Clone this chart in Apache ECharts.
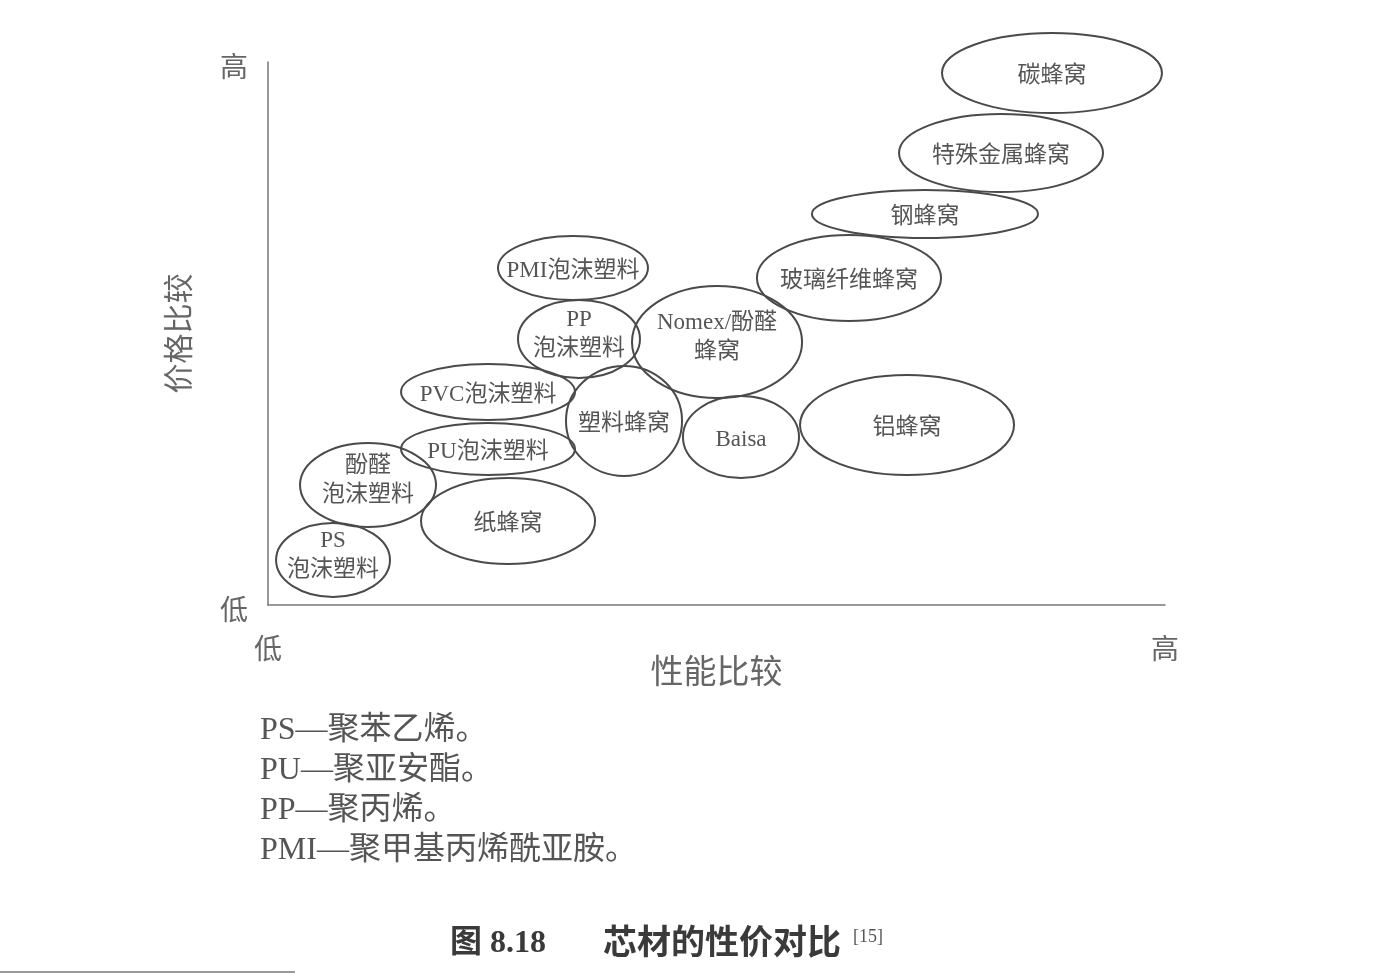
<!DOCTYPE html>
<html>
<head>
<meta charset="utf-8">
<script src="https://cdn.jsdelivr.net/npm/echarts@6/dist/echarts.min.js"></script>
<style>
html,body{margin:0;padding:0;background:#fff;}
#chart{width:1373px;height:977px;}
</style>
</head>
<body>
<div id="chart"></div>
<script>
// ---- data (performance 0..100, price 0..100) ----
var materials = ['PS\n泡沫塑料','酚醛\n泡沫塑料','纸蜂窝','PU泡沫塑料','PVC泡沫塑料','塑料蜂窝','PP\n泡沫塑料','PMI泡沫塑料','Nomex/酚醛\n蜂窝','Baisa','铝蜂窝','玻璃纤维蜂窝','钢蜂窝','特殊金属蜂窝','碳蜂窝'];
var perfCenter = [7.25, 11.15, 26.76, 24.53, 24.53, 39.69, 34.67, 34.0, 50.06, 52.73, 71.24, 64.77, 73.24, 81.72, 87.40];
var priceCenter = [8.29, 22.1, 15.47, 28.73, 39.23, 33.89, 48.99, 62.06, 48.43, 30.94, 33.15, 60.22, 72.01, 83.24, 97.97];
var perfSpread = [6.35, 7.58, 9.70, 9.70, 9.70, 6.47, 6.80, 8.36, 9.48, 6.47, 11.93, 10.26, 12.60, 11.37, 12.26];
var priceSpread = [6.81, 7.73, 7.92, 4.79, 5.16, 10.13, 7.18, 5.89, 10.31, 7.55, 9.21, 7.92, 4.42, 7.18, 7.37];
var xTickLabels = ['低','高'];
var yTickLabels = ['低','高'];
var xAxisName = '性能比较';
var yAxisName = '价格比较';
var notes = ['PS—聚苯乙烯。','PU—聚亚安酯。','PP—聚丙烯。','PMI—聚甲基丙烯酰亚胺。'];
var captionFig = '图 8.18';
var captionTitle = '芯材的性价对比';
var captionRef = '[15]';

var seriesData = materials.map(function(m, i){
  return [perfCenter[i], priceCenter[i], perfSpread[i], priceSpread[i], m];
});

var FONT = "'Liberation Serif','Noto Sans CJK SC',serif";
var chart = echarts.init(document.getElementById('chart'));

var noteGraphics = notes.map(function(t, i){
  return {
    type:'text', left:260, top:715 + i*40,
    style:{text:t, fontSize:32, fontFamily:FONT, fill:'#555'}
  };
});

chart.setOption({
  animation:false,
  backgroundColor:'#fff',
  grid:{left:268, right:208, top:62, bottom:372, containLabel:false},
  xAxis:{
    type:'value', min:0, max:100, interval:100,
    axisLine:{show:true, lineStyle:{color:'#777', width:1.5}},
    axisTick:{show:false},
    splitLine:{show:false},
    axisLabel:{
      margin:33, fontSize:28, color:'#666', fontFamily:FONT,
      formatter:function(v){ return v===0 ? xTickLabels[0] : (v===100 ? xTickLabels[1] : ''); }
    },
    name:xAxisName, nameLocation:'middle', nameGap:53, nameMoveOverlap:false,
    nameTextStyle:{fontSize:33, color:'#666', fontFamily:FONT}
  },
  yAxis:{
    type:'value', min:0, max:100, interval:100,
    axisLine:{show:true, lineStyle:{color:'#777', width:1.5}},
    axisTick:{show:false},
    splitLine:{show:false},
    axisLabel:{
      margin:20, fontSize:28, color:'#666', fontFamily:FONT,
      formatter:function(v){ return v===0 ? '{a|' + yTickLabels[0] + '}' : (v===100 ? '{a|' + yTickLabels[1] + '}' : ''); },
      rich:{a:{fontSize:28, color:'#666', fontFamily:FONT, padding:[16,0,0,0]}}
    },
    name:yAxisName, nameLocation:'middle', nameGap:72, nameRotate:90, nameMoveOverlap:false,
    nameTextStyle:{fontSize:30, color:'#666', fontFamily:FONT}
  },
  series:[{
    type:'custom',
    clip:false,
    data:seriesData,
    renderItem:function(params, api){
      var c = api.coord([api.value(0), api.value(1)]);
      var s = api.size([api.value(2), api.value(3)]);
      var label = seriesData[params.dataIndex][4];
      var multi = label.indexOf('\n') >= 0;
      return {
        type:'group',
        children:[
          {
            type:'ellipse',
            shape:{cx:c[0], cy:c[1], rx:s[0], ry:s[1]},
            style:{fill:'none', stroke:'#4a4a4a', lineWidth:2}
          },
          {
            type:'text',
            style:{
              text:label, x:c[0], y:c[1] + (multi ? -5 : 3), align:'center', verticalAlign:'middle',
              fontSize:23, lineHeight:29, fontFamily:FONT, fill:'#555'
            }
          }
        ]
      };
    }
  }],
  graphic:noteGraphics.concat([
    {
      type:'text', left:450, top:928,
      style:{text:captionFig, fontSize:32, fontWeight:'bold', fontFamily:FONT, fill:'#3a3a3a'}
    },
    {
      type:'text', left:603, top:928,
      style:{text:captionTitle, fontSize:34, fontWeight:'bold', fontFamily:FONT, fill:'#3a3a3a'}
    },
    {
      type:'text', left:853, top:928,
      style:{text:captionRef, fontSize:18, fontFamily:FONT, fill:'#555'}
    },
    {
      type:'line', shape:{x1:0, y1:972, x2:295, y2:972},
      style:{stroke:'#777', lineWidth:1.5}
    }
  ])
});
</script>
</body>
</html>
